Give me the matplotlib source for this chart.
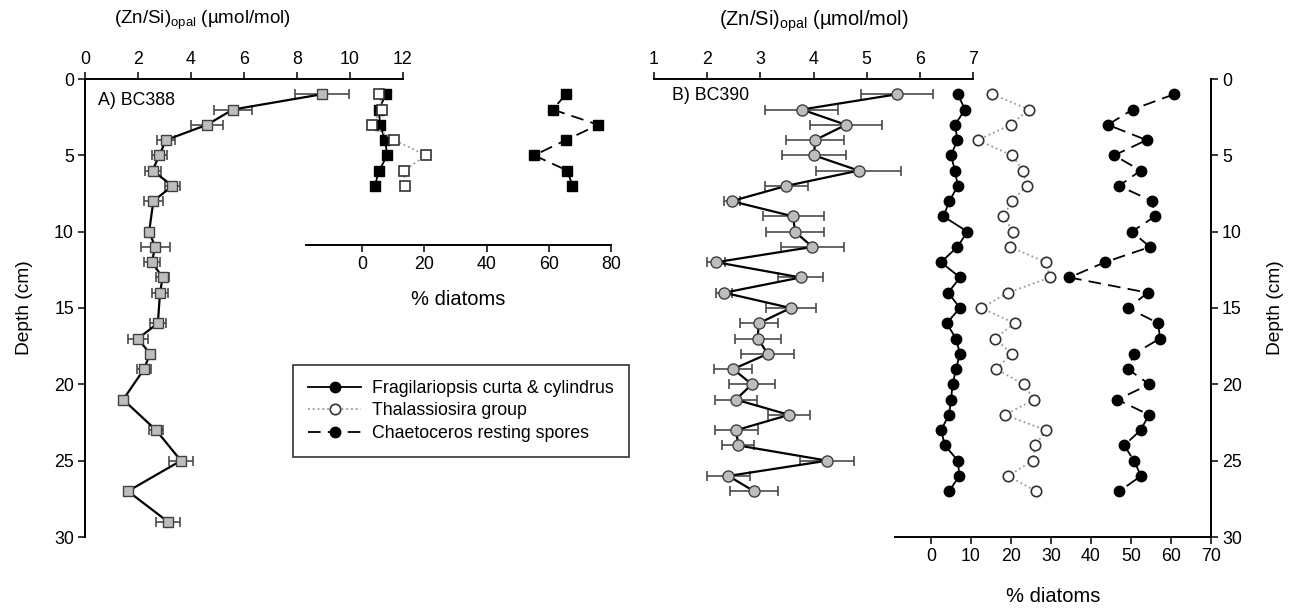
import matplotlib.pyplot as plt

plt.rcParams['font.family'] = ['Liberation Sans', 'DejaVu Sans']
plt.rcParams['mathtext.default'] = 'regular'

# ---- BC388 : (Zn/Si)opal ----
depth_388 = [1, 2, 3, 4, 5, 6, 7, 8, 10, 11, 12, 13, 14, 16, 17, 18, 19, 21, 23, 25, 27, 29]
znsi_388 = [8.94, 5.58, 4.6, 3.06, 2.8, 2.55, 3.3, 2.58, 2.42, 2.65, 2.52, 2.93, 2.83,
            2.75, 2.0, 2.45, 2.23, 1.44, 2.68, 3.62, 1.62, 3.13]
err_388 = [1.03, 0.73, 0.6, 0.35, 0.28, 0.3, 0.3, 0.35, 0.05, 0.55, 0.3, 0.25, 0.3,
           0.3, 0.37, 0.1, 0.25, 0.05, 0.27, 0.45, 0.1, 0.45]

# ---- BC388 : % diatoms ----
depth_388_diat = [1, 2, 3, 4, 5, 6, 7]
frag_388 = [7.7, 5.4, 5.8, 7.4, 8.1, 5.5, 4.1]
thal_388 = [5.6, 6.5, 3.1, 10.3, 20.6, 13.4, 13.9]
chaet_388 = [65.5, 61.3, 75.9, 65.5, 55.3, 66.0, 67.6]

# ---- BC390 : (Zn/Si)opal ----
depth_390 = list(range(1, 28))
znsi_390 = [5.57, 3.78, 4.61, 4.03, 4.01, 4.85, 3.49, 2.46, 3.62, 3.65, 3.98, 2.17, 3.76,
            2.32, 3.57, 2.97, 2.95, 3.14, 2.49, 2.84, 2.54, 3.54, 2.55, 2.58, 4.26, 2.40, 2.88]
err_390 = [0.67, 0.69, 0.67, 0.54, 0.6, 0.8, 0.41, 0.15, 0.57, 0.54, 0.6, 0.17, 0.42,
           0.15, 0.47, 0.36, 0.43, 0.5, 0.36, 0.43, 0.4, 0.39, 0.4, 0.3, 0.51, 0.4, 0.45]

# ---- BC390 : % diatoms ----
frag_390 = [6.7, 8.5, 6.0, 6.6, 5.0, 6.0, 6.7, 4.6, 3.1, 9.1, 6.6, 2.5, 7.25, 4.3, 7.25,
            3.9, 6.25, 7.25, 6.25, 5.4, 5.0, 4.5, 2.5, 3.5, 6.7, 7.1, 4.5]
thal_390 = [15.3, 24.5, 19.9, 11.7, 20.2, 23.1, 23.9, 20.2, 18.1, 20.6, 19.75, 28.7, 29.75,
            19.2, 12.6, 20.9, 16.0, 20.2, 16.25, 23.2, 25.8, 18.5, 28.7, 26.1, 25.4, 19.3, 26.25]
chaet_390 = [60.75, 50.4, 44.2, 53.9, 45.8, 52.4, 47.0, 55.3, 56.0, 50.2, 54.75, 43.5, 34.6,
             54.2, 49.3, 56.8, 57.25, 50.75, 49.2, 54.6, 46.6, 54.5, 52.4, 48.3, 50.75, 52.5, 47.1]

W, H = 1292, 612
fig = plt.figure(figsize=(W / 100, H / 100), dpi=100)


def box(x0, x1, y0, y1):
    # pixel box -> figure fraction
    return [x0 / W, (H - y1) / H, (x1 - x0) / W, (y1 - y0) / H]


FS = 12.8      # ticks, legend, panel tags
LFS = 14.5     # axis titles
ERRC = '#4a4a4a'
GREY = '#bdbdbd'


def style(ax, keep):
    for s in ['top', 'bottom', 'left', 'right']:
        ax.spines[s].set_visible(s in keep)
        ax.spines[s].set_linewidth(1.4)
    ax.tick_params(direction='out', length=5, width=1.1, labelsize=FS, pad=3)
    ax.patch.set_alpha(0)


# ---------------- panel A ----------------
axA = fig.add_axes(box(85, 403, 79, 537))
style(axA, ['top', 'left'])
axA.set_xlim(0, 12)
axA.set_ylim(30, 0)
axA.set_xticks(range(0, 13, 2))
axA.set_yticks(range(0, 31, 5))
axA.xaxis.tick_top()
axA.errorbar(znsi_388, depth_388, xerr=err_388, fmt='none', ecolor=ERRC,
             elinewidth=1.2, capsize=3.5, capthick=1.2, zorder=2)
axA.plot(znsi_388, depth_388, '-', color='black', lw=1.6, marker='s', ms=7.5,
         mfc=GREY, mec='#404040', mew=1.0, zorder=3)
axA.text(0.04, 0.954, 'A) BC388', transform=axA.transAxes, fontsize=FS, va='center')
axA.set_ylabel('Depth (cm)', fontsize=13.8)
axA.yaxis.set_label_coords(-0.165, 0.5)
axA.text(0.37, 1.127, r'(Zn/Si)$_{opal}$ (µmol/mol)', transform=axA.transAxes,
         fontsize=13.5, ha='center', va='center')

# inset % diatoms for A
axAd = fig.add_axes(box(306, 611, 79, 245))
style(axAd, ['bottom'])
axAd.set_xlim(-18, 80)
axAd.set_ylim(166 / 15.27, 0)
axAd.set_xticks(range(0, 81, 20))
axAd.set_yticks([])
axAd.plot(frag_388, depth_388_diat, '-', color='black', lw=1.3, marker='s', ms=7,
          mfc='black', mec='black')
axAd.plot(thal_388, depth_388_diat, ':', color='#9a9a9a', lw=1.3, marker='s', ms=7,
          mfc='white', mec='#333333', mew=1.2)
axAd.plot(chaet_388, depth_388_diat, color='black', lw=1.3, dashes=(7, 4), marker='s',
          ms=7, mfc='black', mec='black')
axAd.set_xlabel('% diatoms', fontsize=LFS)
axAd.xaxis.set_label_coords(0.5, -0.27)

# ---------------- panel B ----------------
axB = fig.add_axes(box(654, 973, 79, 537))
style(axB, ['top'])
axB.set_xlim(1, 7)
axB.set_ylim(30, 0)
axB.set_xticks(range(1, 8))
axB.set_yticks([])
axB.xaxis.tick_top()
axB.errorbar(znsi_390, depth_390, xerr=err_390, fmt='none', ecolor=ERRC,
             elinewidth=1.2, capsize=3.5, capthick=1.2, zorder=2)
axB.plot(znsi_390, depth_390, '-', color='black', lw=1.6, marker='o', ms=8,
         mfc=GREY, mec='#404040', mew=1.0, zorder=3)
axB.text(0.056, 0.965, 'B) BC390', transform=axB.transAxes, fontsize=FS, va='center')
axB.text(0.5, 1.127, r'(Zn/Si)$_{opal}$ (µmol/mol)', transform=axB.transAxes,
         fontsize=LFS, ha='center', va='center')

axBd = fig.add_axes(box(895, 1211, 79, 537))
style(axBd, ['bottom', 'right'])
axBd.set_xlim(-9, 70)
axBd.set_ylim(30, 0)
axBd.set_xticks(range(0, 71, 10))
axBd.set_yticks(range(0, 31, 5))
axBd.yaxis.tick_right()
axBd.yaxis.set_label_position('right')
l1, = axBd.plot(frag_390, depth_390, '-', color='black', lw=1.3, marker='o', ms=7.5,
                mfc='black', mec='black')
l2, = axBd.plot(thal_390, depth_390, ':', color='#9a9a9a', lw=1.3, marker='o', ms=7.5,
                mfc='white', mec='#333333', mew=1.2)
l3, = axBd.plot(chaet_390, depth_390, color='black', lw=1.3, dashes=(7, 4), marker='o',
                ms=7.5, mfc='black', mec='black')
axBd.set_xlabel('% diatoms', fontsize=LFS)
axBd.xaxis.set_label_coords(0.5, -0.11)
axBd.set_ylabel('Depth (cm)', fontsize=13.8)
axBd.yaxis.set_label_coords(1.177, 0.5)

leg = fig.legend([l1, l2, l3],
                 ['Fragilariopsis curta & cylindrus', 'Thalassiosira group',
                  'Chaetoceros resting spores'],
                 loc='upper left', bbox_to_anchor=(293 / W, 1 - 365 / H),
                 borderaxespad=0, fontsize=FS, frameon=True, fancybox=False,
                 edgecolor='black', handlelength=3.0, borderpad=0.85,
                 labelspacing=0.3, handletextpad=0.6)
leg.get_frame().set_linewidth(1.2)

fig.savefig('out.png', dpi=100)
